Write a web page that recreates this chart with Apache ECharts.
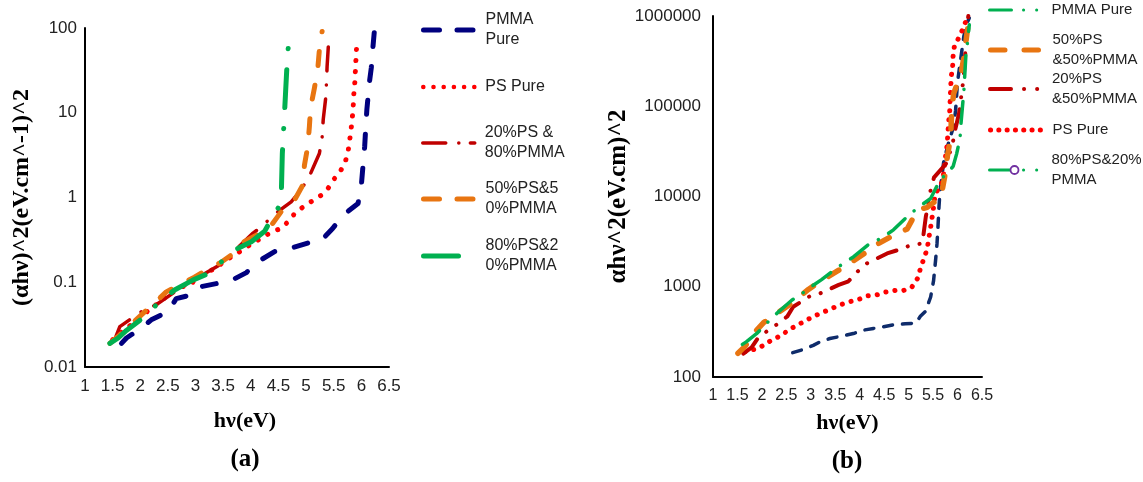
<!DOCTYPE html>
<html><head><meta charset="utf-8">
<script src="https://cdn.jsdelivr.net/npm/echarts@6/dist/echarts.min.js"></script>
<style>html,body{margin:0;padding:0;background:#fff}#c{width:1143px;height:482px}</style>
</head><body><div id="c"></div>
<script>
// ---------- Chart (a) data ----------
const aPMMA_x = [1.66,1.75,1.99,2.2,2.5,2.65,2.92,3.07,3.4,3.65,3.92,4.13,4.43,4.7,5.03,5.27,5.48,5.67,5.94,6.0,6.03,6.06,6.08,6.1,6.15,6.18,6.21,6.24];
const aPMMA_y = [0.019,0.022,0.028,0.036,0.045,0.064,0.071,0.088,0.097,0.105,0.13,0.175,0.23,0.25,0.29,0.31,0.43,0.62,0.85,1.4,2.4,4,6.9,11,24,34,60,100];
const aPS_x = [1.5,1.7,1.9,2.16,2.4,2.65,2.89,3.07,3.3,3.47,3.65,3.8,4.0,4.25,4.4,4.55,4.7,4.82,4.97,5.13,5.28,5.4,5.49,5.61,5.7,5.76,5.79,5.82,5.85,5.86,5.88,5.9,5.92];
const aPS_y = [0.021,0.027,0.034,0.047,0.062,0.085,0.093,0.115,0.14,0.166,0.2,0.23,0.28,0.35,0.4,0.43,0.54,0.68,0.79,0.93,1.07,1.29,1.6,2.0,2.5,3.5,4.8,6.9,10.8,15.6,22,40,73];
const a20_x = [1.55,1.63,2.02,2.3,2.6,2.9,3.2,3.5,3.8,4.04,4.13,4.49,4.73,4.9,5.07,5.24,5.29,5.31,5.36,5.38,5.41];
const a20_y = [0.022,0.03,0.045,0.055,0.075,0.1,0.13,0.17,0.27,0.38,0.42,0.68,0.89,1.2,1.85,3.3,5.1,8.3,16,35,73];
const a50_x = [1.45,1.63,1.84,2.05,2.32,2.47,2.8,2.98,3.2,3.45,3.65,3.83,4.1,4.37,4.55,4.79,4.94,4.97,5.03,5.06,5.08,5.15,5.21,5.24,5.29];
const a50_y = [0.019,0.024,0.032,0.043,0.062,0.077,0.1,0.115,0.14,0.17,0.21,0.29,0.36,0.47,0.68,0.93,1.4,2.4,4,6.9,11.3,19.5,32,55,91];
const a80_x = [1.45,1.6,1.75,2.05,2.29,2.45,2.62,2.95,3.22,3.45,3.71,4.01,4.25,4.4,4.52,4.55,4.57,4.61,4.63,4.65,4.7];
const a80_y = [0.019,0.022,0.027,0.038,0.054,0.066,0.081,0.106,0.126,0.17,0.24,0.3,0.4,0.6,0.8,1.0,3.3,10,18,32,100];
const aYTicks = [0.01, 0.1, 1, 10, 100];
const xTicks = [1, 1.5, 2, 2.5, 3, 3.5, 4, 4.5, 5, 5.5, 6, 6.5];

// ---------- Chart (b) data ----------
const bPMMA_x = [2.63,2.81,3.05,3.19,3.39,3.6,3.87,4.08,4.28,4.49,4.69,4.93,5.14,5.24,5.34,5.45,5.51,5.55,5.58,5.6,5.62,5.64,5.72,5.82,5.92,5.96,6.0,6.06,6.13,6.2,6.24];
const bPMMA_y = [186,199,224,245,267,281,303,331,345,361,378,389,394,470,530,770,1170,1940,3000,4600,7600,11200,25000,40000,60000,90000,186000,320000,600000,850000,950000];
const bPS_x = [1.65,1.94,2.2,2.4,2.54,2.71,2.88,3.05,3.26,3.43,3.6,3.77,3.98,4.15,4.35,4.52,4.73,4.9,5.07,5.18,5.24,5.31,5.38,5.41,5.45,5.48,5.52,5.54,5.66,5.71,5.76,5.79,5.8,5.82,5.84,5.85,5.86,5.87,5.9,5.91,5.94,6.05,6.13,6.22];
const bPS_y = [190,209,257,289,331,372,417,468,525,575,631,676,724,794,813,871,912,912,1000,1230,1580,2040,2630,3390,4570,5890,8300,10700,13200,17000,29400,38000,49000,69000,89000,120000,160000,210000,280000,370000,480000,600000,780000,1000000];
const b20_x = [1.62,1.79,1.92,2.13,2.33,2.52,2.64,2.97,3.16,3.57,3.77,3.94,4.15,4.56,4.8,5.04,5.28,5.35,5.45,5.52,5.76,5.9,5.93,6.03,6.1,6.13,6.17,6.2,6.22];
const b20_y = [182,213,270,330,390,470,600,780,830,1050,1150,1450,1820,2340,2570,2880,3020,5900,11800,16300,22900,38000,49000,83000,162000,229000,490000,810000,1000000];
const b50_x = [1.51,1.65,1.89,2.03,2.4,2.64,2.95,3.19,3.53,3.74,4.15,4.35,4.69,4.97,5.18,5.38,5.5,5.66,5.76,5.79,5.86,5.88,5.92,6.07,6.13,6.2,6.24];
const b50_y = [183,217,330,398,549,676,933,1150,1480,1740,2450,2950,3720,4370,7080,7590,8500,9770,19500,27500,45700,89000,138000,229000,347000,690000,890000];
const b80_x = [1.6,1.68,1.89,2.23,2.61,2.78,2.98,3.22,3.45,3.67,3.87,4.21,4.45,4.69,4.9,5.04,5.24,5.45,5.64,5.8,5.91,5.98,6.05,6.07,6.13,6.17,6.2,6.24];
const b80_y = [230,245,302,466,708,810,980,1200,1500,1820,2140,3020,3470,4270,5500,6460,7900,9500,15200,18500,21600,29500,43600,64000,150000,364000,490000,800000];
const bYTicks = [100, 1000, 10000, 100000, 1000000];

// ---------- Labels ----------
const labelMap = {
  aPMMA: 'PMMA\nPure', aPS: 'PS Pure', a20: '20%PS &\n80%PMMA', a50: '50%PS&5\n0%PMMA', a80: '80%PS&2\n0%PMMA',
  bPMMA: 'PMMA Pure', b50: '50%PS\n&50%PMMA', b20: '20%PS\n&50%PMMA', bPS: 'PS Pure', b80: '80%PS&20%\nPMMA'
};
const yNameA = '(αhν)^2(eV.cm^-1)^2';
const yNameB = 'αhν^2(eV.cm)^2';
const xName = 'hν(eV)';

const C = { navy: '#00007f', navy2: '#0f2c6b', red: '#ff0000', dred: '#c00000', orange: '#e87511', green: '#00b050', purple: '#7030a0' };

function pts(xs, ys) { return xs.map((x, i) => [x, ys[i]]); }
function ser(name, gi, xs, ys, color, width, dash) {
  return { type: 'line', name, xAxisIndex: gi, yAxisIndex: gi, data: pts(xs, ys), symbol: 'none', showSymbol: false,
    smooth: false, silent: true, animation: false, clip: true,
    lineStyle: { color, width, type: dash, cap: 'round', join: 'round' }, itemStyle: { color } };
}
function leg(name, left, top, w, h, fs, twoLine, pl, lineStyle, itemStyle) {
  return { show: true, orient: 'vertical', left, top, padding: 0, itemWidth: w, itemHeight: h, selectedMode: false,
    data: [{ name, lineStyle, itemStyle: itemStyle || { opacity: 0 } }],
    formatter: n => labelMap[n],
    textStyle: { fontFamily: 'Liberation Sans', fontSize: fs, color: '#222', lineHeight: 20,
      padding: twoLine ? [20, 0, 0, pl] : [0, 0, 0, pl] } };
}
const fmt = v => String(+(+v).toPrecision(6));
function xAx(gi, gap, fs, pad) {
  return { gridIndex: gi, type: 'value', min: xTicks[0], max: xTicks[xTicks.length - 1], interval: 0.5,
    axisLine: { show: true, onZero: false, lineStyle: { color: '#000', width: 2 } },
    axisTick: { show: false }, splitLine: { show: false },
    axisLabel: { fontSize: fs, color: '#222', fontFamily: 'Liberation Sans', margin: 11, formatter: fmt, hideOverlap: false },
    name: xName, nameLocation: 'middle', nameGap: gap,
    nameTextStyle: { fontFamily: 'Liberation Serif', fontWeight: 'bold', fontSize: 22, color: '#000', padding: pad } };
}
function yAx(gi, ticks, name, gap, margin, nfs) {
  return { gridIndex: gi, type: 'log', logBase: 10, min: ticks[0], max: ticks[ticks.length - 1],
    axisLine: { show: true, onZero: false, lineStyle: { color: '#000', width: 2 } },
    axisTick: { show: false }, splitLine: { show: false }, minorTick: { show: false }, minorSplitLine: { show: false },
    axisLabel: { fontSize: 17, color: '#222', fontFamily: 'Liberation Sans', margin, formatter: fmt },
    name, nameLocation: 'middle', nameGap: gap, nameRotate: 90,
    nameTextStyle: { fontFamily: 'Liberation Serif', fontWeight: 'bold', fontSize: nfs, color: '#000' } };
}

const option = {
  animation: false,
  backgroundColor: '#fff',
  grid: [
    { left: 85, top: 28, width: 304, height: 339, containLabel: false, outerBoundsMode: 'none' },
    { left: 713, top: 16, width: 269, height: 361, containLabel: false, outerBoundsMode: 'none' }
  ],
  title: [
    { text: '(a)', left: 245, top: 447, textAlign: 'center', padding: 0,
      textStyle: { fontFamily: 'Liberation Serif', fontWeight: 'bold', fontSize: 25, color: '#000' } },
    { text: '(b)', left: 847, top: 449, textAlign: 'center', padding: 0,
      textStyle: { fontFamily: 'Liberation Serif', fontWeight: 'bold', fontSize: 25, color: '#000' } }
  ],
  xAxis: [xAx(0, 43, 17, [0, 0, 0, 16]), xAx(1, 35, 16, [0, 0, 0, 0])],
  yAxis: [yAx(0, aYTicks, yNameA, 51, 8, 24), yAx(1, bYTicks, yNameB, 80, 12, 25)],
  legend: [
    leg('aPMMA', 421, 0, 52, 12, 16, true, 5, { color: C.navy, width: 5, type: [16, 17.5], cap: 'round' }),
    leg('aPS', 421, 77, 52, 12, 16, false, 5, { color: C.red, width: 4.5, type: [0.1, 10.1], cap: 'round' }),
    leg('a20', 421, 113, 52, 12, 16, true, 5, { color: C.dred, width: 3.5, type: [23, 13, 0.1, 11.5], cap: 'round' }),
    leg('a50', 421, 169, 52, 12, 16, true, 5, { color: C.orange, width: 5, type: [16, 17.5], cap: 'round' }),
    leg('a80', 421, 226, 52, 12, 16, true, 5, { color: C.green, width: 5, type: [35, 22, 0.1, 22], cap: 'round' }),
    leg('bPMMA', 988, 0, 50, 10, 15, false, 7, { color: C.green, width: 3, type: [22, 12, 0.1, 13, 0.1, 13], cap: 'round' }),
    leg('b50', 988, 20, 50, 10, 15, true, 7, { color: C.orange, width: 5, type: [14.5, 19], cap: 'round' }),
    leg('b20', 988, 59, 50, 10, 15, true, 7, { color: C.dred, width: 4, type: [21, 13, 0.1, 13, 0.1, 13], cap: 'round' }),
    leg('bPS', 988, 120, 50, 10, 15, false, 7, { color: C.red, width: 5, type: [0.1, 8.2], cap: 'round' }),
    leg('b80', 988, 140, 50, 10, 15, true, 7, { color: C.green, width: 3, type: [22, 12, 0.1, 13, 0.1, 13], cap: 'round' },
      { color: '#fff', borderColor: C.purple, borderWidth: 1.8, opacity: 1 })
  ],
  series: [
    ser('aPMMA', 0, aPMMA_x, aPMMA_y, C.navy, 5, [14, 20]),
    ser('aPS', 0, aPS_x, aPS_y, C.red, 5, [0.1, 11]),
    ser('a20', 0, a20_x, a20_y, C.dred, 3.5, [24, 14, 0.1, 14]),
    ser('a50', 0, a50_x, a50_y, C.orange, 5, [14, 20]),
    ser('a80', 0, a80_x, a80_y, C.green, 5, [38, 21, 0.1, 21]),
    ser('bPMMA', 1, bPMMA_x, bPMMA_y, C.navy2, 3.5, [9, 10]),
    ser('bPS', 1, bPS_x, bPS_y, C.red, 5, [0.1, 9]),
    ser('b20', 1, b20_x, b20_y, C.dred, 4, [20, 12, 0.1, 12, 0.1, 12]),
    ser('b50', 1, b50_x, b50_y, C.orange, 5.5, [12, 18]),
    ser('b80', 1, b80_x, b80_y, C.green, 3.5, [22, 12, 0.1, 12])
  ]
};
const chart = echarts.init(document.getElementById('c'), null, { renderer: 'canvas' });
chart.setOption(option);
</script>
</body></html>
